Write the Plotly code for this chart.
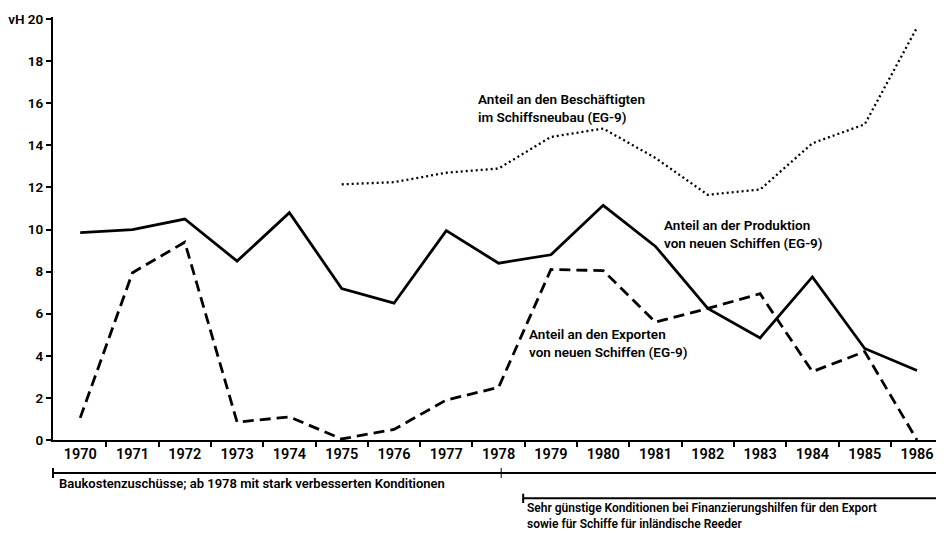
import plotly.graph_objects as go

# years on the x axis
years = list(range(1970, 1987))
# Anteil an der Produktion von neuen Schiffen (EG-9), vH
produktion = [9.85, 10.0, 10.5, 8.5, 10.8, 7.2, 6.5, 9.95, 8.4, 8.8, 11.15, 9.2, 6.25, 4.85, 7.75, 4.35, 3.3]
# Anteil an den Exporten von neuen Schiffen (EG-9), vH
exporte = [1.05, 7.95, 9.4, 0.85, 1.1, 0.05, 0.5, 1.9, 2.5, 8.1, 8.05, 5.6, 6.25, 6.95, 3.25, 4.2, 0.0]
# Anteil an den Beschaeftigten im Schiffsneubau (EG-9), vH, from 1975
jahre_besch = list(range(1975, 1987))
beschaeftigte = [12.15, 12.25, 12.7, 12.9, 14.4, 14.8, 13.4, 11.65, 11.9, 14.1, 15.0, 19.6]

yticks = [0, 2, 4, 6, 8, 10, 12, 14, 16, 18, 20]
yticktext = ['0', '2', '4', '6', '8', '10', '12', '14', '16', '18', 'vH 20']

font = 'Roboto, Arial, sans-serif'

fig = go.Figure()
fig.add_trace(go.Scatter(x=years, y=produktion, mode='lines',
                         line=dict(color='black', width=2.8)))
fig.add_trace(go.Scatter(x=years, y=exporte, mode='lines',
                         line=dict(color='black', width=2.8, dash='11px,6px')))
fig.add_trace(go.Scatter(x=jahre_besch, y=beschaeftigte, mode='lines',
                         line=dict(color='black', width=2.3, dash='2px,3px')))

# labels for the lines
labels = [(1977.59, 15.77, 'Anteil an den Beschäftigten<br>im Schiffsneubau (EG-9)'),
          (1981.14, 9.79, 'Anteil an der Produktion<br>von neuen Schiffen (EG-9)'),
          (1978.56, 4.61, 'Anteil an den Exporten<br>von neuen Schiffen (EG-9)')]
for lx, ly, lt in labels:
    fig.add_annotation(x=lx, y=ly, text=lt, showarrow=False, xanchor='left', yanchor='middle',
                       align='left', borderpad=0, font=dict(size=13.5))

# promotion periods below the axis
line = dict(color='black', width=2)
fig.add_shape(type='line', xref='paper', yref='paper', x0=0, x1=1, y0=-0.078, y1=-0.078, line=line)
fig.add_shape(type='line', xref='paper', yref='paper', x0=0, x1=0, y0=-0.066, y1=-0.09, line=line)
fig.add_shape(type='line', xref='paper', yref='paper', x0=1, x1=1, y0=-0.066, y1=-0.09, line=line)
fig.add_shape(type='line', xref='x', yref='paper', x0=1978.05, x1=1978.05, y0=-0.066, y1=-0.09,
              line=dict(color='black', width=1))
fig.add_annotation(xref='paper', yref='paper', x=0.0045, y=-0.104, showarrow=False,
                   xanchor='left', yanchor='middle', font=dict(size=13),
                   text='Baukostenzuschüsse; ab 1978 mit stark verbesserten Konditionen')
fig.add_shape(type='line', xref='x', yref='paper', x0=1978.47, x1=1986.44, y0=-0.138, y1=-0.138, line=line)
fig.add_shape(type='line', xref='x', yref='paper', x0=1978.47, x1=1978.47, y0=-0.127, y1=-0.149, line=line)
fig.add_shape(type='line', xref='paper', yref='paper', x0=1, x1=1, y0=-0.127, y1=-0.149, line=line)
fig.add_annotation(xref='x', yref='paper', x=1978.52, y=-0.142, showarrow=False,
                   xanchor='left', yanchor='top', align='left', borderpad=0, font=dict(size=12),
                   text='Sehr günstige Konditionen bei Finanzierungshilfen für den Export<br>sowie für Schiffe für inländische Reeder')

# the page body has an 8px margin, so the figure is a bit smaller and the margins shifted
fig.update_layout(
    width=936, height=526,
    margin=dict(l=45, r=4, t=9, b=94),
    paper_bgcolor='white', plot_bgcolor='white',
    showlegend=False,
    font=dict(family=font, size=13.5, color='black', weight=600),
    xaxis=dict(range=[1969.48, 1986.44], tickvals=years, ticks='', showgrid=False,
               zeroline=False, showline=True, linecolor='black', linewidth=2,
               tickfont=dict(size=14.5, weight=600), automargin=False,
               minor=dict(tickvals=[y + 0.5 for y in years[:-1]], ticks='outside',
                          ticklen=5, tickcolor='black', tickwidth=1.5, showgrid=False)),
    yaxis=dict(range=[0, 20.1], tickvals=yticks, ticktext=yticktext, ticks='outside',
               ticklen=5, tickwidth=1.5, tickcolor='black', showgrid=False, zeroline=False,
               showline=True, linecolor='black', linewidth=2, automargin=False,
               tickfont=dict(size=13.5, weight=600)),
)

fig.write_html('out.html')
